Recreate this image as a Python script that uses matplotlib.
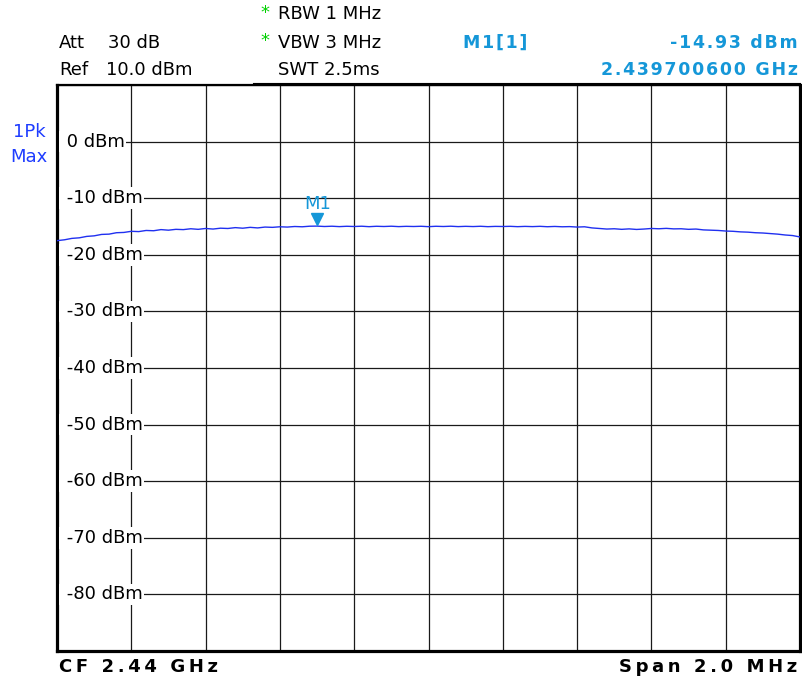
import numpy as np
import matplotlib
matplotlib.use('Agg')
import matplotlib.pyplot as plt
from matplotlib.lines import Line2D
from matplotlib.transforms import offset_copy

W, H = 803, 685

# sweep settings
freq_start_ghz = 2.439
freq_stop_ghz = 2.441
ref_level_dbm = 10.0
bottom_level_dbm = -90.0
level_labels = [0, -10, -20, -30, -40, -50, -60, -70, -80]

# trace, 101 points across the span
trace_dbm = [
    -17.5, -17.35, -17.1, -17.0, -16.75, -16.65, -16.4, -16.35, -16.1, -16.05,
    -15.85, -15.9, -15.7, -15.75, -15.55, -15.65, -15.5, -15.55, -15.4, -15.5,
    -15.35, -15.45, -15.3, -15.35, -15.2, -15.3, -15.15, -15.25, -15.1, -15.15,
    -15.05, -15.1, -15.0, -15.05, -14.95, -14.93, -15.0, -14.95, -15.02, -14.96,
    -15.0, -14.95, -15.03, -14.96, -15.0, -14.95, -15.02, -14.97, -15.0, -14.96,
    -15.03, -14.96, -15.0, -14.95, -15.02, -14.97, -15.01, -14.96, -15.03, -14.98,
    -15.0, -14.97, -15.03, -14.98, -15.02, -14.97, -15.04, -14.99, -15.05, -15.02,
    -15.1, -15.05, -15.25, -15.35, -15.45, -15.4, -15.5, -15.42, -15.52, -15.45,
    -15.35, -15.4, -15.33, -15.42, -15.4, -15.5, -15.45, -15.6, -15.65, -15.7,
    -15.8, -15.85, -15.95, -16.0, -16.1, -16.15, -16.25, -16.35, -16.5, -16.6, -16.85,
]

marker_freq_ghz = 2.4397006
marker_dbm = -14.93

TRACE_BLUE = '#2030f0'
MARK_BLUE = '#1597d8'
DET_BLUE = '#1e3cff'
GREEN = '#00d000'


def fpos(x, y):
    """pixel position -> figure fraction"""
    return x / W, 1 - y / H


def spaced(s, sep='\u200a'):
    """fake letter spacing with hair spaces"""
    return sep.join(s)


fig = plt.figure(figsize=(W / 100, H / 100), dpi=100)
ax = fig.add_axes([57 / W, 1 - 651 / H, 743 / W, 566 / H])

freqs = np.linspace(freq_start_ghz, freq_stop_ghz, len(trace_dbm))
ax.plot(freqs, trace_dbm, color=TRACE_BLUE, lw=1.0, zorder=4)

ax.set_xlim(freq_start_ghz, freq_stop_ghz)
ax.set_ylim(bottom_level_dbm, ref_level_dbm)
ax.set_xticks(np.linspace(freq_start_ghz, freq_stop_ghz, 11))
ax.set_yticks(np.arange(bottom_level_dbm, ref_level_dbm + 1, 10))
ax.grid(True, color='#1a1a1a', lw=0.9)
ax.set_axisbelow(True)
ax.tick_params(length=0, labelbottom=False, labelleft=False)
for side in ['left', 'right', 'bottom']:
    ax.spines[side].set_linewidth(2.3)
ax.spines['top'].set_linewidth(1.6)

# level labels sit inside the grid on white
for lvl in level_labels:
    ax.text(0.005, lvl, f' {lvl} dBm', transform=ax.get_yaxis_transform(),
            ha='left', va='center', fontsize=13, color='black',
            bbox=dict(fc='white', ec='none', boxstyle='square,pad=0.1'), zorder=3)

# marker M1
tri = offset_copy(ax.transData, fig=fig, x=0, y=7, units='dots')
ax.plot([marker_freq_ghz], [marker_dbm], marker='v', ms=9, color=MARK_BLUE,
        transform=tri, zorder=5, clip_on=False)
lbl = offset_copy(ax.transData, fig=fig, x=0, y=22, units='dots')
ax.text(marker_freq_ghz, marker_dbm, 'M1', transform=lbl, ha='center', va='center',
        fontsize=13, color=MARK_BLUE, zorder=5)

# header
hdr = dict(fontsize=13, va='center')
fig.text(*fpos(265, 13), '*', color=GREEN, ha='center', fontsize=13, va='center')
fig.text(*fpos(278, 14), 'RBW 1 MHz', ha='left', **hdr)
fig.text(*fpos(265, 41), '*', color=GREEN, ha='center', fontsize=13, va='center')
fig.text(*fpos(278, 43), 'VBW 3 MHz', ha='left', **hdr)
fig.text(*fpos(278, 70), 'SWT 2.5ms', ha='left', **hdr)
fig.text(*fpos(59, 43), 'Att', ha='left', **hdr)
fig.text(*fpos(108, 43), '30 dB', ha='left', **hdr)
fig.text(*fpos(59, 70), 'Ref', ha='left', **hdr)
fig.text(*fpos(106, 70), '10.0 dBm', ha='left', **hdr)

mk = dict(fontsize=12.5, va='center', color=MARK_BLUE, fontweight='bold')
fig.text(*fpos(463, 43), spaced('M1[1]'), ha='left', **mk)
fig.text(*fpos(798, 43), spaced(f'{marker_dbm:.2f} dBm'), ha='right', **mk)
fig.text(*fpos(798, 70), spaced(f'{marker_freq_ghz:.9f} GHz'), ha='right', **mk)

fig.text(*fpos(29, 132), '1Pk', ha='center', color=DET_BLUE, **hdr)
fig.text(*fpos(29, 157), 'Max', ha='center', color=DET_BLUE, **hdr)

ft = dict(fontsize=13, fontweight='bold', va='center')
fig.text(*fpos(59, 667), spaced('CF 2.44 GHz', '\u2009'), ha='left', **ft)
fig.text(*fpos(797, 667), spaced('Span 2.0 MHz', '\u2009'), ha='right', **ft)

# thin header separator above the grid
x0, y0 = fpos(253, 83)
x1, _ = fpos(800, 83)
fig.add_artist(Line2D([x0, x1], [y0, y0], color='black', lw=0.8))

fig.savefig('out.png', dpi=100)
